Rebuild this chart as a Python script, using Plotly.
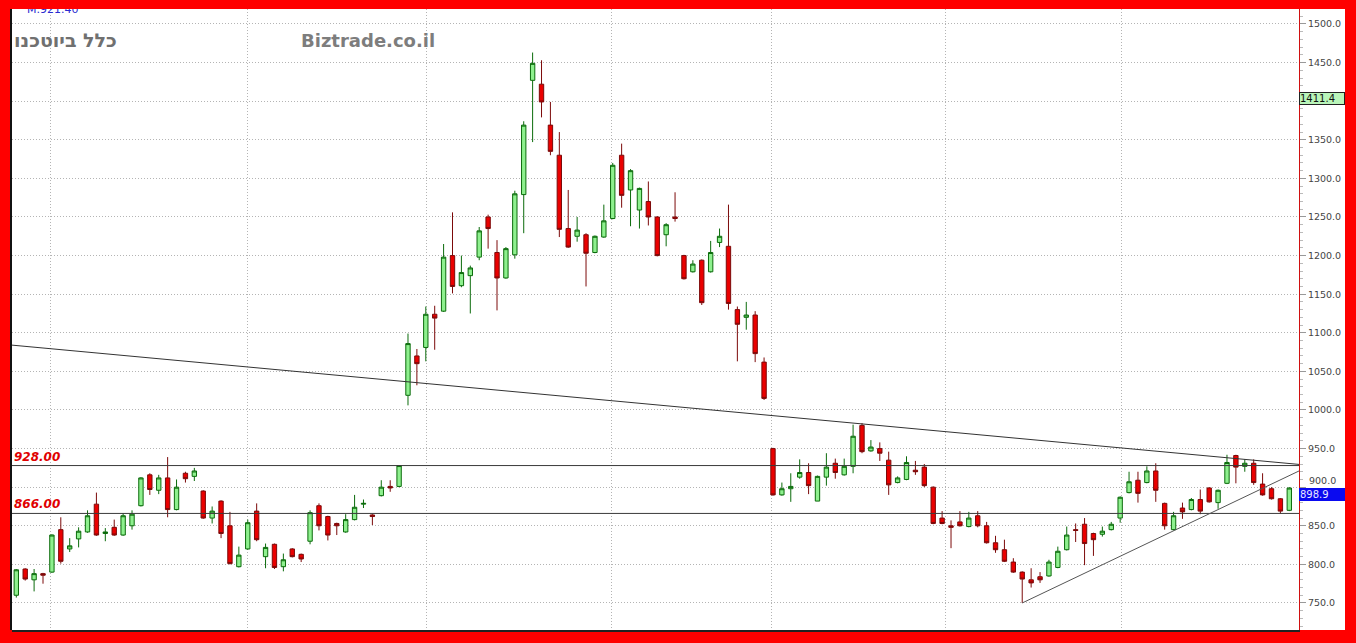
import plotly.graph_objects as go

# Weekly OHLC prices
opens = [760, 794, 780, 788, 790, 845, 820, 833, 842, 878, 840, 848, 838, 850, 876, 916, 896, 912, 871, 918,
         914, 895, 860, 882, 850, 797, 820, 869, 810, 826, 797, 820, 813, 830, 876, 862, 853, 842, 858, 878,
         864, 889, 901, 901, 1019, 1070, 1081, 1124, 1128, 1200, 1161, 1174, 1198, 1250, 1204, 1171, 1201, 1279, 1427, 1422,
         1369, 1330, 1235, 1225, 1227, 1204, 1224, 1248, 1330, 1285, 1259, 1270, 1250, 1227, 1250, 1200, 1179, 1194, 1179, 1217,
         1212, 1130, 1120, 1123, 1062, 950, 890, 898, 913, 919, 882, 913, 931, 916, 927, 980, 947, 950, 935, 906,
         910, 922, 926, 900, 860, 850, 855, 849, 863, 850, 828, 819, 803, 790, 780, 784, 785, 796, 819, 845,
         852, 840, 839, 845, 860, 893, 909, 906, 921, 879, 845, 873, 871, 884, 899, 880, 905, 941, 927, 931,
         904, 898, 885, 870]
highs = [794, 795, 794, 789, 839, 861, 834, 848, 870, 893, 847, 858, 866, 870, 913, 918, 916, 939, 910, 920,
         925, 896, 875, 883, 868, 823, 858, 879, 827, 827, 814, 821, 814, 870, 879, 863, 854, 865, 890, 884,
         865, 909, 909, 928, 1099, 1079, 1134, 1135, 1215, 1256, 1200, 1187, 1237, 1253, 1220, 1211, 1284, 1374, 1463, 1453,
         1399, 1360, 1285, 1250, 1229, 1226, 1266, 1320, 1345, 1312, 1288, 1296, 1251, 1242, 1282, 1201, 1194, 1195, 1219, 1235,
         1266, 1134, 1140, 1128, 1068, 951, 906, 918, 936, 931, 915, 944, 937, 937, 981, 983, 961, 958, 946, 914,
         940, 934, 930, 901, 869, 857, 869, 868, 869, 855, 837, 832, 808, 791, 795, 790, 806, 823, 849, 853,
         860, 841, 849, 855, 888, 920, 920, 927, 931, 880, 868, 880, 886, 897, 900, 897, 942, 942, 936, 936,
         918, 900, 886, 900]
lows = [757, 779, 765, 775, 789, 801, 816, 822, 841, 837, 830, 837, 837, 845, 875, 890, 891, 861, 870, 906,
        908, 859, 853, 834, 800, 796, 819, 830, 795, 794, 791, 809, 803, 826, 844, 831, 838, 841, 857, 873,
        851, 888, 894, 900, 1006, 1032, 1063, 1078, 1127, 1151, 1159, 1125, 1194, 1209, 1129, 1170, 1196, 1229, 1347, 1379,
        1330, 1224, 1210, 1218, 1160, 1203, 1223, 1247, 1262, 1238, 1235, 1239, 1199, 1212, 1244, 1169, 1178, 1136, 1178, 1211,
        1130, 1063, 1104, 1062, 1013, 889, 889, 881, 911, 891, 882, 902, 911, 915, 918, 944, 946, 934, 890, 905,
        909, 916, 900, 852, 852, 821, 849, 848, 848, 827, 815, 803, 789, 750, 770, 776, 784, 795, 818, 829,
        799, 811, 836, 844, 854, 892, 880, 905, 881, 845, 844, 859, 870, 865, 880, 872, 904, 905, 920, 903,
        889, 884, 866, 869]
closes = [793, 781, 788, 786, 838, 804, 824, 843, 863, 838, 842, 838, 863, 865, 912, 897, 912, 871, 900, 911,
          921, 860, 869, 840, 801, 812, 854, 832, 822, 796, 806, 810, 807, 867, 850, 838, 850, 858, 874, 879,
          862, 900, 899, 928, 1086, 1060, 1124, 1119, 1198, 1160, 1178, 1184, 1232, 1235, 1171, 1209, 1280, 1369, 1449, 1399,
          1335, 1234, 1211, 1233, 1203, 1225, 1245, 1317, 1278, 1310, 1287, 1250, 1200, 1240, 1248, 1170, 1189, 1139, 1204, 1225,
          1138, 1111, 1123, 1073, 1015, 890, 898, 901, 919, 902, 914, 926, 919, 927, 966, 946, 952, 944, 903, 912,
          932, 920, 902, 853, 853, 848, 850, 860, 850, 828, 819, 804, 790, 781, 776, 780, 803, 817, 838, 844,
          827, 832, 843, 852, 887, 907, 892, 921, 896, 850, 863, 868, 884, 869, 881, 896, 932, 926, 931, 906,
          890, 885, 869, 898.9]
weeks = list(range(len(closes)))

# Horizontal levels and trend lines (x in week index, y in price)
levels = [928.00, 866.00]
down_trend_x = [-0.48, 144.09]
down_trend_y = [1084.0, 929.5]
up_trend_x = [113.0, 144.09]
up_trend_y = [750.0, 921.0]
month_breaks = [3.8, 26.0, 46.1, 66.9, 84.8, 104.4, 124.1]
y_ticks = list(range(750, 1501, 50))
marker_value = 1411.4
last_price = closes[-1]
avg_label = "M.921.40"
stock_name = "כלל ביוטכנו"
site_name = "Biztrade.co.il"

W, H = 1356, 643
ML, MR, MT, MB = 12, 57, 9, 13
PW, PH = W - ML - MR, H - MT - MB
SCALE_FONT = dict(family="DejaVu Sans", size=9.5, color="#444")


def xp(px):
    return (px - ML) / PW


def yp(py):
    return (H - MB - py) / PH


# scale labels that collide with the price boxes: the one under the marker box is
# hidden, the one at the last price is lifted just above its box
hidden_ticks = [v for v in y_ticks if abs(v - marker_value) < 25]
lifted_ticks = [v for v in y_ticks if abs(v - last_price) < 5]
y_tick_text = ["" if (v in hidden_ticks or v in lifted_ticks) else f"{v:.1f}" for v in y_ticks]

fig = go.Figure()

fig.add_trace(go.Candlestick(
    x=weeks, open=opens, high=highs, low=lows, close=closes,
    increasing=dict(line=dict(color="#0b6b0b", width=1), fillcolor="#8ef08e"),
    decreasing=dict(line=dict(color="#7c0a0a", width=1), fillcolor="#ea0000"),
    whiskerwidth=0, showlegend=False, hoverinfo="skip",
))

# small average readout at the top-left corner, clipped by the plot frame
fig.add_trace(go.Scatter(
    x=[1.2], y=[1518.0], mode="text", text=[avg_label], textposition="middle right",
    textfont=dict(family="DejaVu Sans", size=11, color="#2a2ad0"),
    cliponaxis=True, showlegend=False, hoverinfo="skip",
))

shapes = []
# white strip behind the price scale
shapes.append(dict(type="rect", xref="paper", yref="paper", x0=1, x1=xp(1345), y0=0, y1=1,
                   fillcolor="white", line=dict(width=0), layer="below"))
# left frame line
shapes.append(dict(type="line", xref="paper", yref="paper", x0=xp(11), x1=xp(11), y0=0, y1=1,
                   line=dict(color="#111", width=2)))
for lv in levels:
    shapes.append(dict(type="line", xref="paper", yref="y", x0=0, x1=1, y0=lv, y1=lv,
                       line=dict(color="#3a3a3a", width=1)))
shapes.append(dict(type="line", xref="x", yref="y", x0=down_trend_x[0], x1=down_trend_x[1],
                   y0=down_trend_y[0], y1=down_trend_y[1], line=dict(color="#333", width=1)))
shapes.append(dict(type="line", xref="x", yref="y", x0=up_trend_x[0], x1=up_trend_x[1],
                   y0=up_trend_y[0], y1=up_trend_y[1], line=dict(color="#555", width=1)))

annotations = []
for lv in levels:
    annotations.append(dict(xref="paper", yref="y", x=xp(12), y=lv, xanchor="left", yanchor="bottom",
                            text=f"{lv:.2f}", showarrow=False,
                            font=dict(family="DejaVu Sans", size=12, color="#e00000",
                                      style="italic", weight="bold")))
annotations.append(dict(xref="paper", yref="paper", x=xp(12), y=yp(40), xanchor="left", yanchor="middle",
                        text=stock_name, showarrow=False,
                        font=dict(family="DejaVu Sans", size=19, color="#707070", weight="bold")))
annotations.append(dict(xref="paper", yref="paper", x=xp(299), y=yp(40), xanchor="left", yanchor="middle",
                        text=site_name, showarrow=False,
                        font=dict(family="DejaVu Sans", size=18, color="#7d7d7d", weight="bold")))
for v in lifted_ticks:
    annotations.append(dict(xref="paper", yref="y", x=xp(1308), y=last_price, xanchor="left",
                            yanchor="bottom", yshift=1, text=f"{v:.1f}", showarrow=False,
                            borderpad=0, font=SCALE_FONT))
annotations.append(dict(xref="paper", yref="y", x=1, y=marker_value, xanchor="left", yanchor="top",
                        text=f"{marker_value:.1f}", showarrow=False, align="left", width=44,
                        bgcolor="#b9f5b9", bordercolor="#222", borderwidth=1, borderpad=0,
                        font=dict(family="DejaVu Sans", size=10, color="#111")))
annotations.append(dict(xref="paper", yref="y", x=1, y=last_price, xanchor="left", yanchor="top",
                        text=f"{last_price:.1f}", showarrow=False, align="left", width=44,
                        bgcolor="#0a0af0", bordercolor="#0a0af0", borderwidth=1, borderpad=0,
                        font=dict(family="DejaVu Sans", size=10, color="#e8e8ff")))

fig.update_layout(
    width=W, height=H, autosize=False,
    margin=dict(l=ML, r=MR, t=MT, b=MB, pad=0),
    paper_bgcolor="#ff0000", plot_bgcolor="white",
    shapes=shapes, annotations=annotations,
    xaxis=dict(range=[-0.483, 144.09], rangeslider=dict(visible=False), tickvals=month_breaks,
               showticklabels=False, ticks="", showgrid=True, gridcolor="#b4b4b4", griddash="1px,2px",
               gridwidth=1, zeroline=False, showline=True, linecolor="#222", linewidth=2),
    yaxis=dict(range=[715.0, 1519.4], side="right", tickvals=y_ticks, ticktext=y_tick_text,
               ticks="outside", ticklen=6, tickcolor="#999", showgrid=True, gridcolor="#b4b4b4",
               griddash="1px,2px", gridwidth=1, zeroline=False, showline=True, linecolor="#d01010",
               linewidth=1, tickfont=SCALE_FONT,
               minor=dict(dtick=10, ticks="outside", ticklen=3, tickcolor="#bbb", showgrid=False)),
    hovermode=False,
)

fig.write_html("out.html", config={"displayModeBar": False})
